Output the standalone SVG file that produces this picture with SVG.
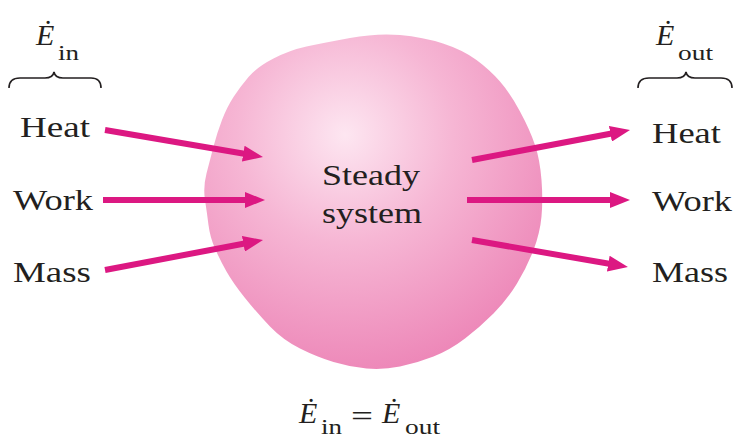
<svg xmlns="http://www.w3.org/2000/svg" width="747" height="441" viewBox="0 0 747 441">
<style>
text{font-family:'Liberation Serif','Times New Roman',serif;fill:#231f20;font-size:30px}
.i{font-style:italic}
.s{font-size:22px}
.a{stroke:#dc1882;stroke-width:6;fill:none;marker-end:url(#ah)}
.b{stroke:#231f20;stroke-width:1.6;fill:none}
</style>
<defs>
<radialGradient id="g" cx="345" cy="135" r="240" gradientUnits="userSpaceOnUse">
<stop offset="0" stop-color="#fde6f1"/>
<stop offset="0.45" stop-color="#f6b6d4"/>
<stop offset="1" stop-color="#ed87b8"/>
</radialGradient>
<marker id="ah" viewBox="0 0 20 16" refX="4" refY="8" markerWidth="20" markerHeight="16" markerUnits="userSpaceOnUse" orient="auto">
<path d="M0,0 L20,8 L0,16 Z" fill="#dc1882"/>
</marker>
</defs>
<rect width="747" height="441" fill="#ffffff"/>
<g id="system">
<path fill="url(#g)" d="M400,35 Q423,37 443,43.5 Q463,50 476.5,60 Q490,70 500,81.5 Q510,93 520,111.5 Q530,130 535,145 Q540,160 541.5,180 Q543,200 541.5,216.5 Q540,233 533.5,250 Q527,267 517,283.5 Q507,300 493.5,313.5 Q480,327 465,338.5 Q450,350 433.5,356.5 Q417,363 400,366.5 Q383,370 366.5,368.5 Q350,367 333.5,362 Q317,357 300,348.5 Q283,340 270,326.5 Q257,313 245,298 Q233,283 226.5,271.5 Q220,260 215,248.5 Q210,237 208.5,225 Q207,213 205,200 Q203,187 206.5,173.5 Q210,160 213.5,146.5 Q217,133 222,120 Q227,107 233.5,97 Q240,87 248.5,77 Q257,67 273.5,58.5 Q290,50 306.5,46.5 Q323,43 350,38 Q377,33 400,35 Z"/>
<text x="322" y="185" font-family="Liberation Serif" font-size="29" textLength="98" lengthAdjust="spacingAndGlyphs">Steady</text>
<text x="322" y="223" font-family="Liberation Serif" font-size="29" textLength="100" lengthAdjust="spacingAndGlyphs">system</text>
</g>
<g id="connectors">
<line class="a" x1="105" y1="130" x2="247.2" y2="154.3"/>
<line class="a" x1="103" y1="200" x2="249" y2="200"/>
<line class="a" x1="105" y1="270" x2="247.3" y2="243"/>
<line class="a" x1="472" y1="160" x2="614.3" y2="133"/>
<line class="a" x1="467" y1="200" x2="614" y2="200"/>
<line class="a" x1="472" y1="240" x2="612.2" y2="264.3"/>
</g>
<g id="in-labels" font-family="Liberation Serif">
<text x="20" y="137" textLength="70" lengthAdjust="spacingAndGlyphs">Heat</text>
<text x="13" y="210" textLength="80" lengthAdjust="spacingAndGlyphs">Work</text>
<text x="13" y="282" textLength="78" lengthAdjust="spacingAndGlyphs">Mass</text>
</g>
<g id="out-labels" font-family="Liberation Serif">
<text x="652" y="143" textLength="69" lengthAdjust="spacingAndGlyphs">Heat</text>
<text x="652" y="211" textLength="80" lengthAdjust="spacingAndGlyphs">Work</text>
<text x="652" y="282" textLength="76" lengthAdjust="spacingAndGlyphs">Mass</text>
</g>
<g id="e-in" font-family="Liberation Serif">
<text class="i" x="36" y="45">Ė</text>
<text class="s" x="58" y="60" textLength="21" lengthAdjust="spacingAndGlyphs">in</text>
<path class="b" d="M9,88 Q9,78 20,78 L45,78 Q53,78 54,72 Q55,78 63,78 L91,78 Q101,78 101,88"/>
</g>
<g id="e-out" font-family="Liberation Serif">
<text class="i" x="656" y="45">Ė</text>
<text class="s" x="678" y="60" textLength="35" lengthAdjust="spacingAndGlyphs">out</text>
<path class="b" d="M638,88 Q638,78 649,78 L677,78 Q685,78 686,72 Q687,78 695,78 L721,78 Q732,78 732,88"/>
</g>
<g id="balance" font-family="Liberation Serif">
<text class="i" x="299" y="423">Ė</text>
<text class="s" x="321" y="434" textLength="21" lengthAdjust="spacingAndGlyphs">in</text>
<text x="351" y="426" textLength="22" lengthAdjust="spacingAndGlyphs">=</text>
<text class="i" x="382" y="423">Ė</text>
<text class="s" x="405" y="434" textLength="35" lengthAdjust="spacingAndGlyphs">out</text>
</g>
</svg>
